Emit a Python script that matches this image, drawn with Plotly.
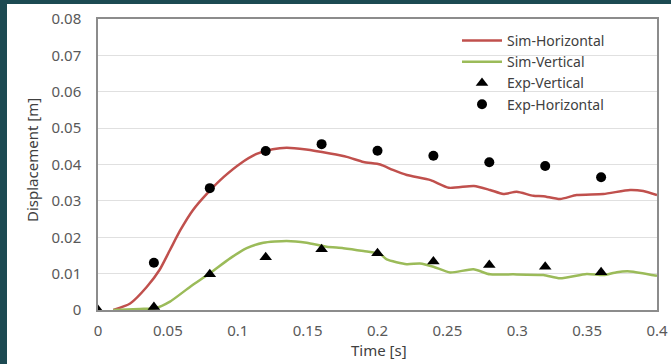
import plotly.graph_objects as go

# Simulated displacement curves (time [s], displacement [m])
sim_h_t = [0.011, 0.023, 0.035, 0.044, 0.0515, 0.059, 0.068, 0.078, 0.090, 0.102, 0.114, 0.125,
           0.135, 0.149, 0.166, 0.178, 0.190, 0.202, 0.211, 0.221, 0.238, 0.251, 0.269, 0.2805,
           0.290, 0.2996, 0.3115, 0.3187, 0.3306, 0.3425, 0.3616, 0.3807, 0.3902, 0.400]
sim_h_v = [0.0, 0.0018, 0.0064, 0.011, 0.0165, 0.022, 0.0275, 0.032, 0.0366, 0.0403, 0.043, 0.0442,
           0.0446, 0.0441, 0.043, 0.0421, 0.0407, 0.0400, 0.0385, 0.0371, 0.0357, 0.0336, 0.0341, 0.033,
           0.0319, 0.0325, 0.0314, 0.0313, 0.0305, 0.0316, 0.0319, 0.033, 0.0327, 0.0316]

sim_v_t = [0.011, 0.030, 0.041, 0.0515, 0.066, 0.080, 0.0945, 0.1064, 0.1183, 0.135, 0.1493, 0.1636,
           0.1755, 0.190, 0.2018, 0.2066, 0.2209, 0.2304, 0.240, 0.2519, 0.2686, 0.2805, 0.2972,
           0.3187, 0.3306, 0.3497, 0.3616, 0.3712, 0.3807, 0.400]
sim_v_v = [0.0, 0.0003, 0.0005, 0.0023, 0.0064, 0.0101, 0.0142, 0.017, 0.0185, 0.019, 0.0185, 0.0174,
           0.017, 0.0162, 0.0154, 0.0139, 0.0126, 0.0128, 0.0119, 0.0103, 0.0112, 0.0098, 0.0098,
           0.0096, 0.0087, 0.0099, 0.0096, 0.0104, 0.0106, 0.0094]

# Experimental measurements
exp_v_t = [0.0, 0.04, 0.08, 0.12, 0.16, 0.20, 0.24, 0.28, 0.32, 0.36]
exp_v_v = [0.0, 0.0008, 0.0098, 0.0145, 0.0167, 0.0156, 0.0133, 0.0124, 0.0119, 0.0104]

exp_h_t = [0.04, 0.08, 0.12, 0.16, 0.20, 0.24, 0.28, 0.32, 0.36]
exp_h_v = [0.013, 0.0335, 0.0437, 0.0456, 0.0438, 0.0424, 0.0406, 0.0396, 0.0365]

x_ticks = [0, 0.05, 0.1, 0.15, 0.2, 0.25, 0.3, 0.35, 0.4]
y_ticks = [0, 0.01, 0.02, 0.03, 0.04, 0.05, 0.06, 0.07, 0.08]

W, H = 671, 364
ML, MR, MT, MB = 98, 14, 19, 54
PW, PH = W - ML - MR, H - MT - MB
FONT = "Noto Sans"
TXT = "#595959"
TITLE = "#404040"
FRAME = "#1c4a52"


def px_x(px):
    """page x pixel -> paper coordinate"""
    return (px - ML) / PW


def px_y(py):
    """page y pixel (from top) -> paper coordinate"""
    return (H - MB - py) / PH


fig = go.Figure()
fig.add_trace(go.Scatter(x=sim_h_t, y=sim_h_v, mode="lines", name="Sim-Horizontal",
                         line=dict(color="#C0504D", width=2.5, shape="spline", smoothing=0.6)))
fig.add_trace(go.Scatter(x=sim_v_t, y=sim_v_v, mode="lines", name="Sim-Vertical",
                         line=dict(color="#9BBB59", width=2.5, shape="spline", smoothing=0.6)))
fig.add_trace(go.Scatter(x=exp_v_t, y=exp_v_v, mode="markers", name="Exp-Vertical",
                         marker=dict(symbol="triangle-up", size=11, color="black")))
fig.add_trace(go.Scatter(x=exp_h_t, y=exp_h_v, mode="markers", name="Exp-Horizontal",
                         marker=dict(symbol="circle", size=10, color="black")))

# thin dark frame along the left and top page edges
fig.add_shape(type="rect", xref="paper", yref="paper", layer="above",
              x0=px_x(0), x1=px_x(7), y0=px_y(H), y1=px_y(0),
              fillcolor=FRAME, line_width=0)
fig.add_shape(type="rect", xref="paper", yref="paper", layer="above",
              x0=px_x(0), x1=px_x(W), y0=px_y(4), y1=px_y(0),
              fillcolor=FRAME, line_width=0)

# axis titles
fig.add_annotation(text="Time [s]", xref="paper", yref="paper", x=px_x(379), y=px_y(350),
                   xanchor="center", yanchor="middle", showarrow=False,
                   font=dict(family=FONT, size=15, color=TITLE))
fig.add_annotation(text="Displacement [m]", xref="paper", yref="paper", x=px_x(32), y=px_y(160),
                   xanchor="center", yanchor="middle", showarrow=False, textangle=-90,
                   font=dict(family=FONT, size=15, color=TITLE))

fig.update_layout(
    width=W, height=H,
    margin=dict(l=ML, r=MR, t=MT, b=MB),
    paper_bgcolor="white", plot_bgcolor="white",
    font=dict(family=FONT, size=15, color=TXT),
    showlegend=True,
    legend=dict(x=px_x(457), y=px_y(25), xanchor="left", yanchor="top",
                bgcolor="rgba(0,0,0,0)", font=dict(size=14, color=TITLE),
                tracegroupgap=0, itemwidth=40),
    xaxis=dict(range=[0, 0.4], tickvals=x_ticks, ticktext=[f"{v:g}" for v in x_ticks],
               showgrid=False, zeroline=False, showline=True, linecolor="#8c8c8c", linewidth=1.5,
               mirror=True, ticks="", tickfont=dict(size=15, color=TXT), ticklabelstandoff=6,
               automargin=False),
    yaxis=dict(range=[0, 0.08], tickvals=y_ticks, ticktext=[f"{v:g}" for v in y_ticks],
               showgrid=True, gridcolor="#e0e0e0", gridwidth=1, zeroline=False,
               showline=True, linecolor="#8c8c8c", linewidth=1.5, mirror=True, ticks="",
               tickfont=dict(size=15, color=TXT), ticklabelstandoff=12,
               automargin=False),
)

fig.write_html("out.html")
